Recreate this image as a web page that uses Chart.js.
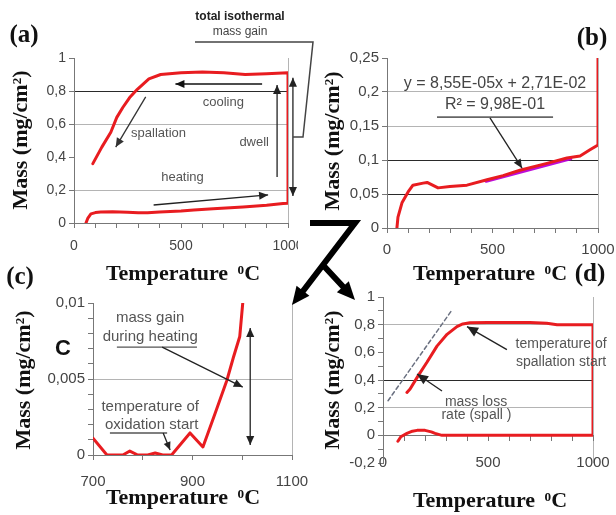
<!DOCTYPE html>
<html>
<head>
<meta charset="utf-8">
<script src="https://cdn.jsdelivr.net/npm/chart.js@4.4.1/dist/chart.umd.min.js"></script>
<style>
  html, body { margin: 0; padding: 0; background: #fff; }
  body { width: 616px; height: 515px; position: relative; overflow: hidden; }
  canvas { position: absolute; }
  .clip { position: absolute; overflow: hidden; }
  .t { position: absolute; white-space: nowrap; color: #111; font-family: "Liberation Serif", serif; font-weight: bold; transform: translate(-50%, -50%); }
  .lbl { font-size: 25px; }
  .xt { font-size: 22px; word-spacing: 4px; }
  .yt { font-size: 22px; transform: translate(-50%, -50%) rotate(-90deg); }
  sup { font-size: 60%; position: relative; top: -0.45em; vertical-align: baseline; }
  .big { font-family: "Liberation Sans", sans-serif; font-size: 22px; }
</style>
</head>
<body>
<div class="clip" style="left:0;top:0;width:298px;height:262px"><canvas id="ca" width="320" height="262" style="left:0;top:0"></canvas></div>
<canvas id="cb" width="330" height="225" style="left:300px;top:40px"></canvas>
<canvas id="cc" width="330" height="205" style="left:0;top:285px"></canvas>
<canvas id="cd" width="340" height="195" style="left:300px;top:280px"></canvas>
<canvas id="deco" width="616" height="515" style="left:0;top:0;pointer-events:none"></canvas>

<div class="t lbl" style="left:24px;top:34px">(a)</div>
<div class="t lbl" style="left:592px;top:37px">(b)</div>
<div class="t lbl" style="left:20px;top:276px">(c)</div>
<div class="t lbl" style="left:590px;top:273px">(d)</div>

<div class="t yt" style="left:20px;top:140px">Mass (mg/cm<sup>2</sup>)</div>
<div class="t xt" style="left:183px;top:273px">Temperature <sup>0</sup>C</div>
<div class="t yt" style="left:332px;top:141px">Mass (mg/cm<sup>2</sup>)</div>
<div class="t xt" style="left:490px;top:273px">Temperature <sup>0</sup>C</div>
<div class="t yt" style="left:23px;top:380px">Mass (mg/cm<sup>2</sup>)</div>
<div class="t xt" style="left:183px;top:497px">Temperature <sup>0</sup>C</div>
<div class="t yt" style="left:332px;top:380px">Mass (mg/cm<sup>2</sup>)</div>
<div class="t xt" style="left:490px;top:500px">Temperature <sup>0</sup>C</div>
<div class="t big" style="left:63px;top:348px">C</div>

<script>
// (a) full cycle: heating, dwell at 1000 C, cooling
const aTemp = [56, 65, 79, 100, 125, 180, 250, 300, 344, 400, 500, 560, 650, 790, 900, 977, 1000,
  1000, 900, 800, 700, 600, 500, 405, 350, 296, 260, 228, 200, 172, 130, 88];
const aMass = [0, 0.03, 0.055, 0.063, 0.067, 0.068, 0.065, 0.062, 0.062, 0.066, 0.073, 0.079, 0.086, 0.097, 0.108, 0.118, 0.12,
  0.91, 0.905, 0.9, 0.91, 0.915, 0.91, 0.9, 0.873, 0.81, 0.76, 0.70, 0.64, 0.55, 0.46, 0.36];

// (b) heating part, with linear fit segment
const bTemp = [47, 52, 71, 100, 123, 171, 190, 242, 298, 379, 474, 550, 630, 758, 853, 915, 962, 1000, 1000];
const bMass = [0, 0.016, 0.037, 0.053, 0.063, 0.066, 0.067, 0.059, 0.061, 0.063, 0.071, 0.077, 0.085, 0.095, 0.103, 0.106, 0.115, 0.122, 0.25];
const bFitTemp = [470, 870];
const bFitMass = [0.069, 0.102];

// (c) zoom on oxidation start
const cTemp = [700, 728, 760, 774, 790, 810, 825, 840, 858, 895, 921, 945, 969, 982, 995, 1001];
const cMass = [0.0011, 0, 0, 0.00026, 0, 0, 0.00013, 0, 0, 0.00145, 0.00053, 0.0027, 0.0049, 0.0064, 0.0078, 0.01];

// (d) spallation during cooling
const dTemp = [71, 85, 114, 140, 162, 200, 230, 248, 281, 500, 700, 1000, 1000, 900, 829, 780, 700, 600, 500, 414,
  380, 352, 305, 257, 210, 167, 129, 114];
const dMass = [-0.043, -0.01, 0.014, 0.03, 0.036, 0.036, 0.025, 0.014, 0, 0, 0, 0, 0.8, 0.8, 0.8, 0.81, 0.815, 0.815, 0.815, 0.814,
  0.805, 0.786, 0.73, 0.645, 0.53, 0.43, 0.335, 0.31];
const dTanTemp = [24, 329];
const dTanMass = [0.25, 0.907];

const RED = 'rgb(232,28,32)';
const xy = (xs, ys) => xs.map((v, i) => ({ x: v, y: ys[i] }));
const comma = v => String(+v.toFixed(4)).replace('.', ',');
const near = (v, list) => list.some(w => Math.abs(v - w) < 1e-6);

function head(ctx, x1, y1, x2, y2, size, color) {
  const a = Math.atan2(y2 - y1, x2 - x1);
  ctx.fillStyle = color;
  ctx.beginPath();
  ctx.moveTo(x2, y2);
  ctx.lineTo(x2 - size * Math.cos(a) + size * 0.45 * Math.sin(a), y2 - size * Math.sin(a) - size * 0.45 * Math.cos(a));
  ctx.lineTo(x2 - size * Math.cos(a) - size * 0.45 * Math.sin(a), y2 - size * Math.sin(a) + size * 0.45 * Math.cos(a));
  ctx.closePath();
  ctx.fill();
}

// annotations drawn in data space
function notes(items) {
  return {
    id: 'notes',
    afterDatasetsDraw(chart) {
      const { ctx, scales: { x, y } } = chart;
      const P = p => [x.getPixelForValue(p[0]), y.getPixelForValue(p[1])];
      ctx.save();
      items.forEach(it => {
        if (it.text) {
          const [px, py] = P(it.at);
          ctx.font = it.font;
          ctx.fillStyle = it.color || '#555';
          ctx.textAlign = 'center';
          ctx.textBaseline = 'middle';
          ctx.fillText(it.text, px, py);
          return;
        }
        const [x1, y1] = P(it.from), [x2, y2] = P(it.to);
        const col = it.color || '#222';
        ctx.strokeStyle = col;
        ctx.lineWidth = it.w || 1.3;
        ctx.beginPath();
        ctx.moveTo(x1, y1);
        ctx.lineTo(x2, y2);
        ctx.stroke();
        if (it.head) head(ctx, x1, y1, x2, y2, it.size || 9, col);
        if (it.head === 'both') head(ctx, x2, y2, x1, y1, it.size || 9, col);
      });
      ctx.restore();
    }
  };
}

function build(id, o) {
  const tickFont = { family: 'Liberation Sans', size: o.font };
  return new Chart(document.getElementById(id), {
    type: 'scatter',
    data: {
      datasets: o.sets.map(s => ({
        data: xy(s.x, s.y), showLine: true, borderColor: s.color, borderWidth: s.w,
        borderDash: s.dash || [], pointRadius: 0, borderJoinStyle: 'round', borderCapStyle: 'round'
      }))
    },
    options: {
      responsive: false, animation: false, events: [],
      layout: { padding: o.pad },
      plugins: { legend: { display: false }, tooltip: { enabled: false } },
      scales: {
        x: {
          type: 'linear', min: o.x.min, max: o.x.max, position: o.x.pos || 'bottom',
          afterFit: s => { if (o.x.h) s.height = o.x.h; },
          border: { color: '#777' },
          grid: {
            color: c => (c.tick && c.tick.value === o.x.max ? '#b4b4b4' : 'rgba(0,0,0,0)'),
            tickColor: '#777', tickLength: 5
          },
          ticks: {
            stepSize: o.x.step, autoSkip: false, maxRotation: 0, padding: o.x.pad, color: '#444', font: tickFont,
            callback: v => (Math.round(v - o.x.min) % o.x.every === 0 ? String(v) : '')
          }
        },
        y: {
          min: o.y.min, max: o.y.max,
          afterFit: s => { s.width = o.y.w; },
          border: { color: '#777' },
          grid: {
            color: c => (near(c.tick.value, o.y.dark) ? '#2a2a2a' : near(c.tick.value, o.y.light) ? '#b4b4b4' : 'rgba(0,0,0,0)'),
            tickColor: '#777', tickLength: 5
          },
          ticks: {
            stepSize: o.y.step, autoSkip: false, padding: 3, color: '#444', font: tickFont,
            callback: v => (Math.abs(Math.round((v - o.y.min) / o.y.step)) % o.y.every === 0 ? comma(v) : '')
          }
        }
      }
    },
    plugins: [notes(o.notes)]
  });
}

const f13 = '13px "Liberation Sans"', f14 = '14px "Liberation Sans"', f15 = '15px "Liberation Sans"', f16 = '16px "Liberation Sans"';

build('ca', {
  font: 14, pad: { top: 58, right: 32, left: 0, bottom: 0 },
  x: { min: 0, max: 1000, step: 100, every: 500, h: 39, pad: 10 },
  y: { min: 0, max: 1, step: 0.2, every: 1, w: 74, dark: [0.8], light: [0.6, 0.2] },
  sets: [{ x: aTemp, y: aMass, color: RED, w: 3 }],
  notes: [
    { from: [879, 0.842], to: [474, 0.842], head: 1, w: 1.6, color: '#111' },
    { text: 'cooling', at: [698, 0.733], font: f13 },
    { from: [335, 0.764], to: [195, 0.46], head: 1, color: '#333' },
    { text: 'spallation', at: [395, 0.545], font: f13 },
    { text: 'dwell', at: [842, 0.49], font: f13 },
    { from: [949, 0.279], to: [949, 0.836], head: 1, color: '#222' },
    { text: 'heating', at: [507, 0.279], font: f13 },
    { from: [372, 0.109], to: [907, 0.17], head: 1, color: '#222' },
    { from: [1023, 0.164], to: [1023, 0.88], head: 'both', color: '#222' }
  ]
});

build('cb', {
  font: 15, pad: { top: 18, right: 32, left: 0, bottom: 0 },
  x: { min: 0, max: 1000, step: 100, every: 500, h: 37, pad: 8 },
  y: { min: 0, max: 0.25, step: 0.05, every: 1, w: 87, dark: [0.1, 0.05], light: [0.2, 0.15] },
  sets: [
    { x: bTemp, y: bMass, color: RED, w: 3 },
    { x: bFitTemp, y: bFitMass, color: 'rgba(185,0,215,0.95)', w: 3.5 }
  ],
  notes: [
    { text: 'y = 8,55E-05x + 2,71E-02', at: [512, 0.213], font: f16, color: '#444' },
    { text: 'R² = 9,98E-01', at: [512, 0.181], font: f16, color: '#444' },
    { from: [237, 0.163], to: [787, 0.163], w: 1.6, color: '#666' },
    { from: [488, 0.162], to: [640, 0.088], head: 1, color: '#222' }
  ]
});

build('cc', {
  font: 15, pad: { top: 18, right: 38, left: 0, bottom: 0 },
  x: { min: 700, max: 1100, step: 100, every: 200, h: 35, pad: 13 },
  y: { min: 0, max: 0.01, step: 0.001, every: 5, w: 93, dark: [], light: [0.005] },
  sets: [{ x: cTemp, y: cMass, color: RED, w: 3 }],
  notes: [
    { text: 'mass gain', at: [815, 0.0090], font: f15 },
    { text: 'during heating', at: [815, 0.00776], font: f15 },
    { from: [748, 0.0071], to: [909, 0.0071], w: 1.4, color: '#555' },
    { from: [839, 0.0071], to: [1001, 0.00447], head: 1, color: '#222' },
    { from: [1016, 0.00066], to: [1016, 0.00836], head: 'both', color: '#222' },
    { text: 'temperature of', at: [815, 0.00316], font: f15 },
    { text: 'oxidation start', at: [818, 0.00197], font: f15 },
    { from: [734, 0.00145], to: [849, 0.00145], w: 1.4, color: '#555' },
    { from: [841, 0.00145], to: [855, 0.00033], head: 1, color: '#222', size: 8 }
  ]
});

build('cd', {
  font: 15, pad: { top: 17, right: 47, left: 0, bottom: 10 },
  x: { min: 0, max: 1000, step: 100, every: 500, pos: { y: 0 }, pad: 14 },
  y: { min: -0.2, max: 1, step: 0.1, every: 2, w: 83, dark: [0.4], light: [0.8, 0.2] },
  sets: [
    { x: dTemp, y: dMass, color: RED, w: 3 },
    { x: dTanTemp, y: dTanMass, color: '#6a7080', w: 1.5, dash: [4, 3] }
  ],
  notes: [
    { from: [590, 0.62], to: [400, 0.786], head: 1, color: '#222', size: 11 },
    { text: 'temperature of', at: [848, 0.657], font: f14 },
    { text: 'spallation start', at: [848, 0.53], font: f14 },
    { from: [281, 0.32], to: [162, 0.443], head: 1, color: '#222', size: 11 },
    { text: 'mass loss', at: [443, 0.243], font: f14 },
    { text: 'rate (spall )', at: [445, 0.143], font: f14 }
  ]
});

// figure decorations: isothermal gain label and the linking arrow
const g = document.getElementById('deco').getContext('2d');
g.fillStyle = '#222';
g.textAlign = 'center';
g.textBaseline = 'middle';
g.font = 'bold 12px "Liberation Sans"';
g.fillText('total isothermal', 240, 17);
g.font = '12px "Liberation Sans"';
g.fillStyle = '#444';
g.fillText('mass gain', 240, 32);
g.strokeStyle = '#444';
g.lineWidth = 1.5;
g.beginPath();
g.moveTo(195, 42); g.lineTo(313, 42); g.lineTo(303, 137); g.lineTo(293, 137);
g.stroke();

g.strokeStyle = '#000';
g.lineWidth = 6;
g.lineJoin = 'miter';
g.beginPath();
g.moveTo(310, 223); g.lineTo(355, 223); g.lineTo(300, 295);
g.moveTo(322, 264); g.lineTo(348, 292);
g.stroke();
head(g, 355, 223, 292, 305, 18, '#000');
head(g, 322, 264, 355, 300, 18, '#000');
</script>
</body>
</html>
